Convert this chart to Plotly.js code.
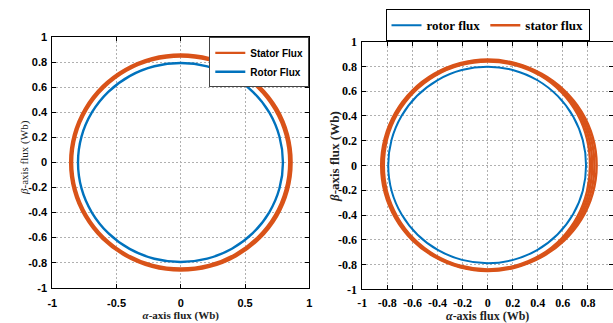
<!DOCTYPE html>
<html><head><meta charset="utf-8">
<script src="https://cdn.plot.ly/plotly-3.0.1.min.js"></script>
<style>html,body{margin:0;padding:0;background:#fff}#chart{width:613px;height:323px}</style>
</head><body><div id="chart"></div>
<script>
const angleDeg = [0,15,30,45,60,75,90,105,120,135,150,165,180,195,210,225,240,255,270,285,300,315,330,345];

// ---- left panel ----
const leftStatorLoop1 = [0.863,0.864,0.865,0.865,0.864,0.864,0.864,0.864,0.863,0.863,0.862,0.862,0.862,0.862,0.862,0.863,0.863,0.864,0.864,0.864,0.864,0.864,0.864,0.863];
const leftStatorLoop2 = [0.853,0.854,0.855,0.855,0.855,0.855,0.855,0.855,0.854,0.854,0.854,0.854,0.854,0.854,0.854,0.854,0.855,0.855,0.855,0.855,0.855,0.855,0.854,0.853];
const leftStatorLoop3 = [0.843,0.844,0.845,0.846,0.846,0.846,0.846,0.846,0.846,0.845,0.845,0.845,0.845,0.845,0.845,0.846,0.846,0.846,0.846,0.846,0.846,0.845,0.844,0.843];
const leftRotor = [0.795,0.795,0.796,0.796,0.796,0.795,0.795,0.796,0.797,0.798,0.799,0.800,0.800,0.800,0.799,0.798,0.797,0.796,0.795,0.795,0.795,0.795,0.795,0.795];

// ---- right panel ----
const rightStatorLoop1 = [0.8695,0.869,0.866,0.861,0.857,0.856,0.856,0.855,0.8545,0.853,0.8515,0.850,0.8495,0.850,0.8505,0.8515,0.8515,0.852,0.8525,0.853,0.856,0.860,0.865,0.868];
const rightStatorLoop2 = [0.8518,0.853,0.8533,0.8523,0.851,0.8507,0.851,0.850,0.849,0.847,0.845,0.843,0.8425,0.843,0.844,0.846,0.8465,0.847,0.848,0.848,0.850,0.851,0.852,0.852];
const rightStatorLoop3 = [0.8342,0.837,0.8407,0.8437,0.845,0.8453,0.845,0.844,0.843,0.841,0.839,0.837,0.8355,0.837,0.838,0.840,0.8415,0.843,0.844,0.844,0.844,0.843,0.840,0.836];
const rightStatorLoop4 = [0.8165,0.821,0.828,0.835,0.839,0.840,0.840,0.839,0.8375,0.835,0.8325,0.830,0.8285,0.830,0.8315,0.8345,0.8365,0.838,0.8395,0.839,0.838,0.834,0.827,0.820];
const rightRotor = [0.785,0.786,0.789,0.792,0.795,0.797,0.798,0.798,0.797,0.796,0.795,0.794,0.793,0.793,0.792,0.791,0.790,0.789,0.789,0.789,0.789,0.788,0.787,0.786];

// tick labels
const leftXTickVals = [-1,-0.5,0,0.5,1];
const leftXTickText = ['-1','-0.5','0','0.5','1'];
const yTickVals = [-1,-0.8,-0.6,-0.4,-0.2,0,0.2,0.4,0.6,0.8,1];
const yTickText = ['-1','-0.8','-0.6','-0.4','-0.2','0','0.2','0.4','0.6','0.8','1'];
const rightXTickVals = [-1,-0.8,-0.6,-0.4,-0.2,0,0.2,0.4,0.6,0.8,1];
const rightXTickText = ['-1','-0.8','-0.6','-0.4','-0.2','0','0.2','0.4','0.6','0.8','1'];

const ROTOR_C = '#0072BD', STATOR_C = '#D95319';

function toXY(radii){
  const r = radii.concat([radii[0]]);
  const a = angleDeg.concat([angleDeg[0] + 360]);
  return {
    x: r.map((v,i)=> v*Math.cos(a[i]*Math.PI/180)),
    y: r.map((v,i)=> v*Math.sin(a[i]*Math.PI/180))
  };
}
function loopTrace(radii, color, width, extra){
  const p = toXY(radii);
  return Object.assign({type:'scatter', mode:'lines', x:p.x, y:p.y, hoverinfo:'skip',
    line:{shape:'spline', smoothing:1, width:width, color:color}}, extra);
}

const traces = [
  loopTrace(leftStatorLoop1, STATOR_C, 2.2, {xaxis:'x', yaxis:'y', name:'Stator Flux', legend:'legend', legendgroup:'ls', showlegend:true}),
  loopTrace(leftStatorLoop2, STATOR_C, 2.2, {xaxis:'x', yaxis:'y', legendgroup:'ls', showlegend:false}),
  loopTrace(leftStatorLoop3, STATOR_C, 2.2, {xaxis:'x', yaxis:'y', legendgroup:'ls', showlegend:false}),
  loopTrace(leftRotor, ROTOR_C, 2.4, {xaxis:'x', yaxis:'y', name:'Rotor Flux', legend:'legend', showlegend:true}),

  loopTrace(rightRotor, ROTOR_C, 2, {xaxis:'x2', yaxis:'y2', name:'rotor flux', legend:'legend2', showlegend:true}),
  loopTrace(rightStatorLoop1, STATOR_C, 2.4, {xaxis:'x2', yaxis:'y2', name:'stator flux', legend:'legend2', legendgroup:'rs', showlegend:true}),
  loopTrace(rightStatorLoop2, STATOR_C, 2.4, {xaxis:'x2', yaxis:'y2', legendgroup:'rs', showlegend:false}),
  loopTrace(rightStatorLoop3, STATOR_C, 2.4, {xaxis:'x2', yaxis:'y2', legendgroup:'rs', showlegend:false}),
  loopTrace(rightStatorLoop4, STATOR_C, 2.4, {xaxis:'x2', yaxis:'y2', legendgroup:'rs', showlegend:false})
];

const W = 613, H = 323;
function axis(o){
  return Object.assign({
    range:[-1,1], autorange:false, fixedrange:true,
    tickmode:'array', ticks:'inside', ticklen:4, tickwidth:1, tickcolor:'#000',
    showline:true, linecolor:'#000', linewidth:1, mirror:'ticks',
    showgrid:true, gridcolor:'#b0b0b0', gridwidth:1, griddash:'2px,2px',
    zeroline:false, automargin:false
  }, o);
}
const SANS = 'Liberation Sans', SERIF = 'Liberation Serif';
const sansTick = {family:SANS, size:11, weight:'bold', color:'#000'};
const serifTick = {family:SERIF, size:12, weight:'bold', color:'#000'};

const layout = {
  width:W, height:H, margin:{l:0,r:0,t:0,b:0}, paper_bgcolor:'#fff', plot_bgcolor:'#fff',
  font:{family:SANS},
  showlegend:true,
  xaxis: axis({domain:[52.3/W, 309.3/W], anchor:'y', tickvals:leftXTickVals, ticktext:leftXTickText,
    tickfont:sansTick, ticklabelstandoff:5,
    title:{text:'<i>α</i>-axis flux (Wb)', standoff:0, font:{family:SERIF, size:11, weight:'bold', color:'#222'}}}),
  yaxis: axis({domain:[1-287.7/H, 1-37.3/H], anchor:'x', tickvals:yTickVals, ticktext:yTickText,
    tickfont:sansTick, ticklabelstandoff:2}),
  xaxis2: axis({domain:[362.3/W, 1], anchor:'y2', tickvals:rightXTickVals, ticktext:rightXTickText,
    tickfont:serifTick, ticklabelstandoff:2,
    title:{text:'<i>α</i>-axis flux (Wb)', standoff:6, font:{family:SERIF, size:12, weight:'bold', color:'#222'}}}),
  yaxis2: axis({domain:[1-289.3/H, 1-41.7/H], anchor:'x2', tickvals:yTickVals, ticktext:yTickText,
    tickfont:serifTick, ticklabelstandoff:2}),
  annotations:[
    {text:'<i>β</i>-axis flux (Wb)', xref:'paper', yref:'paper', x:24.5/W, y:1-157.5/H, xanchor:'center', yanchor:'middle',
     textangle:-90, showarrow:false, font:{family:SERIF, size:11, color:'#222'}},
    {text:'<i>β</i>-axis flux (Wb)', xref:'paper', yref:'paper', x:334/W, y:1-157/H, xanchor:'center', yanchor:'middle',
     textangle:-90, showarrow:false, font:{family:SERIF, size:13, weight:'bold', color:'#222'}}
  ],
  legend:{x:309.3/W, xanchor:'right', y:1-37.3/H, yanchor:'top', bgcolor:'#fff', bordercolor:'#444', borderwidth:1,
    font:{family:SANS, size:10, weight:'bold', color:'#000'}, itemwidth:30, tracegroupgap:0, traceorder:'normal'},
  legend2:{orientation:'h', x:487.5/W, xanchor:'center', y:1-9.3/H, yanchor:'top', bgcolor:'#fff', bordercolor:'#000', borderwidth:1,
    font:{family:SERIF, size:13, weight:'bold', color:'#000'}, itemwidth:30, traceorder:'normal'}
};

Plotly.newPlot('chart', traces, layout, {staticPlot:true, displayModeBar:false});
</script>
</body></html>
